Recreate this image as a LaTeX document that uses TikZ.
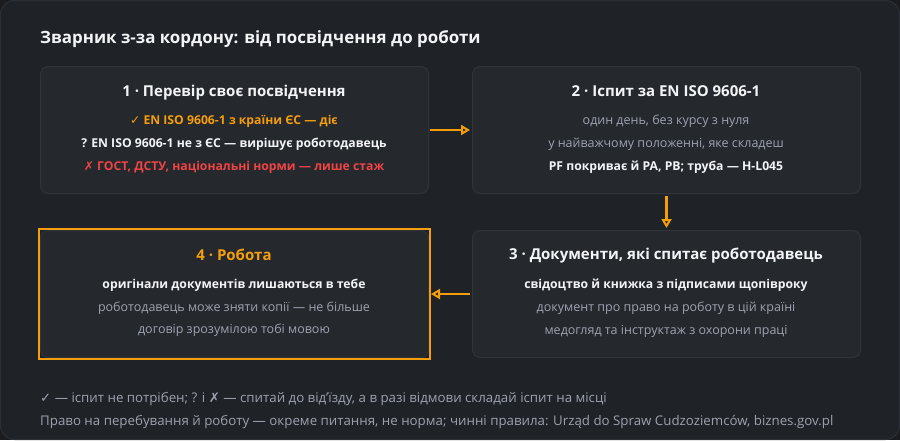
\documentclass[tikz,border=0pt]{standalone}
\usepackage{fontspec}
\setmainfont{Open Sans}
\newfontfamily\symf{DejaVu Sans}
\usetikzlibrary{arrows.meta}
\definecolor{pagebg}{HTML}{1A1C20}
\definecolor{framebg}{HTML}{1F2226}
\definecolor{frameline}{HTML}{2C3036}
\definecolor{panelbg}{HTML}{25282D}
\definecolor{panelline}{HTML}{30343A}
\definecolor{accent}{HTML}{F59E0B}
\definecolor{alert}{HTML}{EF4444}
\definecolor{bright}{HTML}{F3F4F6}
\definecolor{muted}{HTML}{9CA3AF}
\tikzset{
  panel/.style={draw=panelline, fill=panelbg, rounded corners=8pt, line width=1pt, anchor=north west, minimum width=388pt, minimum height=127pt, inner sep=0pt},
  heading/.style={anchor=base, inner sep=0pt, font=\bfseries\fontsize{15}{18}\selectfont, text=bright},
  strong/.style={anchor=base, inner sep=0pt, font=\bfseries\fontsize{12.2}{15}\selectfont, text=bright},
  plain/.style={anchor=base, inner sep=0pt, font=\fontsize{12.5}{15}\selectfont, text=muted},
  foot/.style={anchor=base west, inner sep=0pt, font=\fontsize{13.3}{15}\selectfont, text=muted},
  flow/.style={draw=accent, line width=2.2pt, -{Triangle[open, length=9pt, width=10pt, line width=2pt]}}
}
\begin{document}
\begin{tikzpicture}[x=1pt,y=-1pt]
\useasboundingbox (0,0) rectangle (900,440);
\fill[pagebg] (0,0) rectangle (900,440);
\draw[fill=framebg, draw=frameline, line width=1pt, rounded corners=14pt] (0.5,0.5) rectangle (899.5,439.5);

\node[anchor=base west, inner sep=0pt, font=\bfseries\fontsize{16.9}{20}\selectfont, text=bright] (title) at (40,43) {Зварник з-за кордону: від посвідчення до роботи};

% panels
\node[panel] (b1) at (40,66) {};
\node[panel] (b2) at (472,66) {};
\node[panel] (b3) at (472,230) {};
\node[panel] (b4) at (40,230) {};
\draw[accent, line width=2pt] ([shift={(-1pt,1pt)}]b4.north west) rectangle ([shift={(1pt,-1pt)}]b4.south east);

% box 1
\node[heading] (h1) at (234,96) {1 · Перевір своє посвідчення};
\node[strong, text=accent] (l11) at (234,124) {{\symf ✓} EN ISO 9606-1 з країни ЄС — діє};
\node[strong] (l12) at (234,147) {? EN ISO 9606-1 не з ЄС — вирішує роботодавець};
\node[strong, text=alert] (l13) at (234,170) {{\symf ✗} ГОСТ, ДСТУ, національні норми — лише стаж};

% box 2
\node[heading] (h2) at (666,96) {2 · Іспит за EN ISO 9606-1};
\node[plain] (l21) at (666,124) {один день, без курсу з нуля};
\node[plain] (l22) at (666,147) {у найважчому положенні, яке складеш};
\node[strong] (l23) at (666,170) {PF покриває й PA, PB; труба — H-L045};

% box 3
\node[heading] (h3) at (666,259) {3 · Документи, які спитає роботодавець};
\node[strong] (l31) at (666,288) {свідоцтво й книжка з підписами щопівроку};
\node[plain] (l32) at (666,311) {документ про право на роботу в цій країні};
\node[plain] (l33) at (666,334) {медогляд та інструктаж з охорони праці};

% box 4
\node[heading, text=accent] (h4) at (234,260) {4 · Робота};
\node[strong] (l41) at (234,288) {оригінали документів лишаються в тебе};
\node[plain] (l42) at (234,311) {роботодавець може зняти копії — не більше};
\node[plain] (l43) at (234,333) {договір зрозумілою тобі мовою};

% arrows
\draw[flow, shorten <=1pt, shorten >=2pt] (b1.east |- 0,130) -- (b2.west |- 0,130);
\draw[flow, shorten <=2pt, shorten >=2pt] (b2.south) -- (b3.north);
\draw[flow, shorten <=2pt, shorten >=2pt] (b3.west |- 0,294) -- (b4.east |- 0,294);

% footer
\node[foot] (f1) at (40,402) {{\symf ✓} — іспит не потрібен; ? і {\symf ✗} — спитай до від’їзду, а в разі відмови складай іспит на місці};
\node[foot] (f2) at (40,425) {Право на перебування й роботу — окреме питання, не норма; чинні правила: Urząd do Spraw Cudzoziemców, biznes.gov.pl};
\end{tikzpicture}
\end{document}
